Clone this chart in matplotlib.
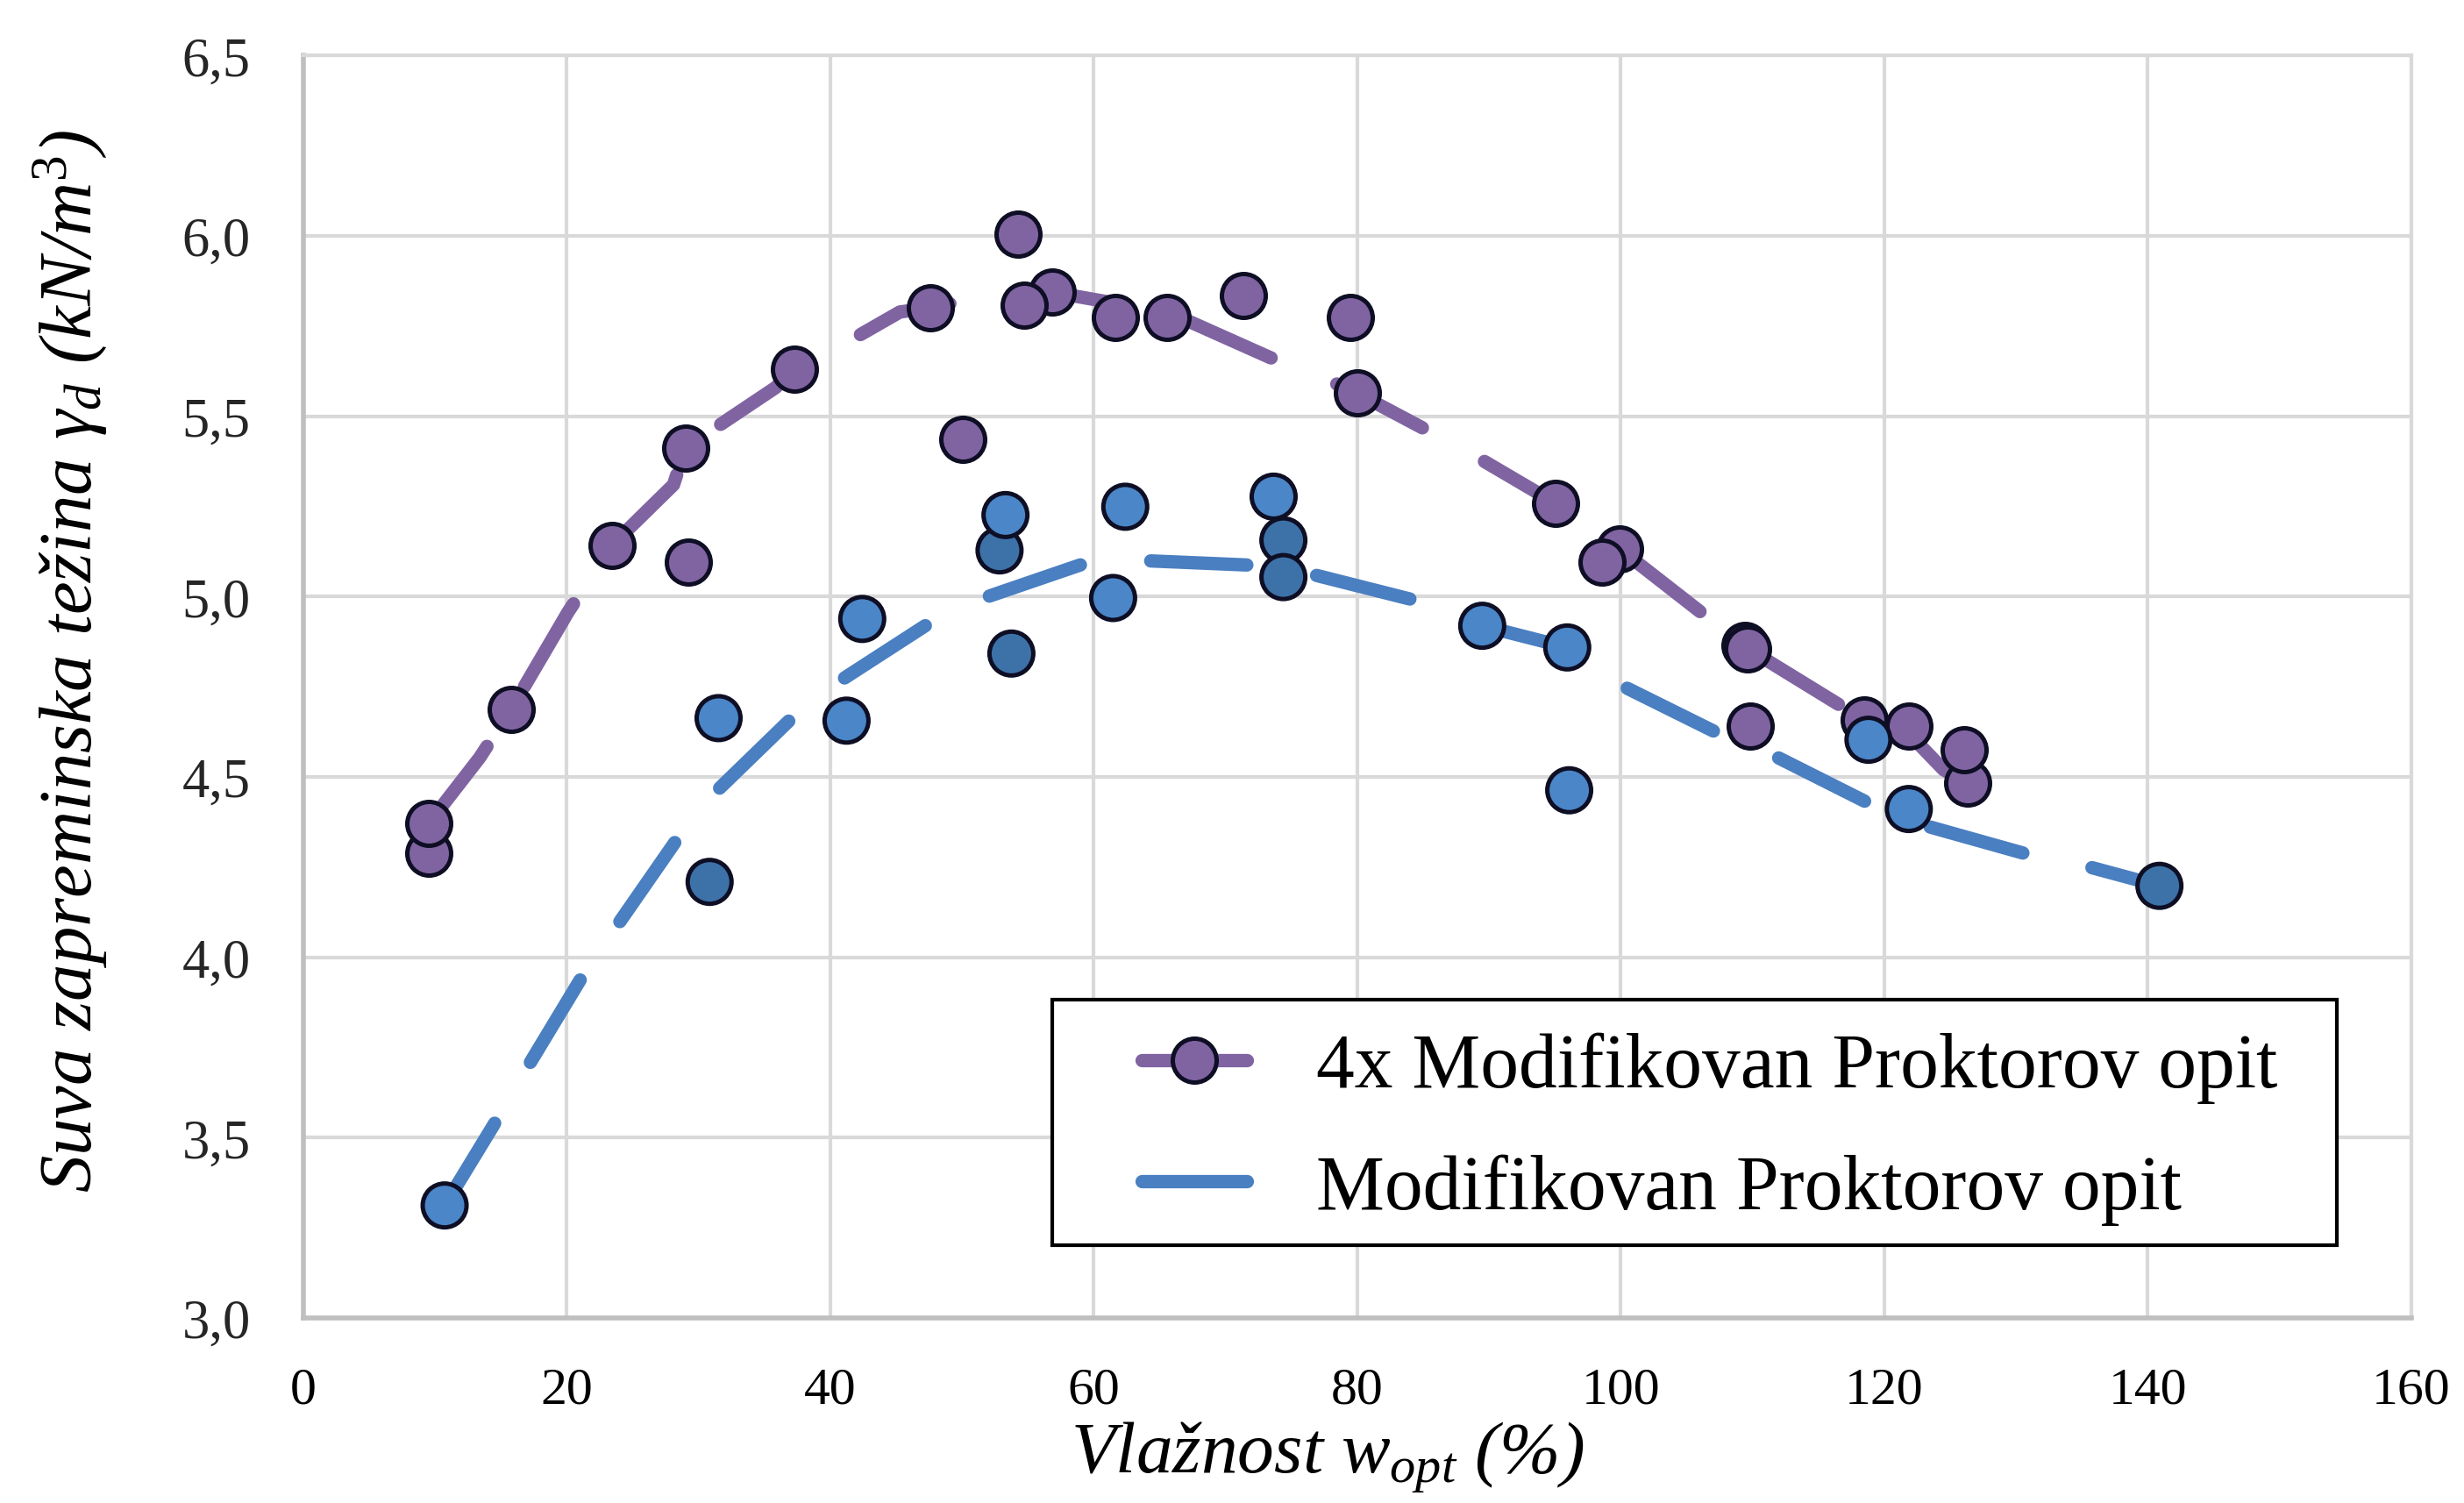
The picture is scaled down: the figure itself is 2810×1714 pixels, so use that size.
import matplotlib
matplotlib.use("Agg")
import matplotlib.pyplot as plt
from matplotlib.lines import Line2D
from matplotlib.patches import Rectangle

plt.rcParams['font.family'] = ['Liberation Serif', 'DejaVu Serif']
plt.rcParams['mathtext.fontset'] = 'custom'
plt.rcParams['mathtext.rm'] = 'Liberation Serif'
plt.rcParams['mathtext.it'] = 'Liberation Serif:italic'
plt.rcParams['mathtext.bf'] = 'Liberation Serif:bold'
plt.rcParams['lines.scale_dashes'] = False

# ---------------- data ----------------
x_ticks = [0, 20, 40, 60, 80, 100, 120, 140, 160]
y_ticks = [3.0, 3.5, 4.0, 4.5, 5.0, 5.5, 6.0, 6.5]
y_tick_labels = ['3,0', '3,5', '4,0', '4,5', '5,0', '5,5', '6,0', '6,5']

label_4x = '4x Modifikovan Proktorov opit'
label_mod = 'Modifikovan Proktorov opit'

# 4x modified Proctor - measured points
p4_x = [9.56, 9.56, 15.8, 23.43, 29.02, 29.25, 37.33, 47.58, 50.05, 54.29,
        56.88, 54.71, 61.63, 65.58, 71.37, 79.51, 79.99, 95.04, 99.89, 98.55,
        109.4, 109.6, 109.83, 118.45, 121.86, 126.32, 126.08]
p4_y = [4.288, 4.372, 4.688, 5.142, 5.412, 5.096, 5.63, 5.80, 5.435, 6.005,
        5.844, 5.807, 5.775, 5.775, 5.835, 5.775, 5.564, 5.259, 5.133, 5.096,
        4.865, 4.855, 4.64, 4.658, 4.64, 4.482, 4.575]

# 4x modified Proctor - curve
p4_line_x = [9.56, 13.42, 15.8, 20.1, 23.43, 28.12, 29.02, 35.85, 37.33, 41.05,
             45.3, 47.58, 52.0, 56.88, 60.45, 65.58, 73.37, 77.37, 79.99, 84.94,
             88.8, 95.04, 99.89, 106.1, 109.54, 118.45, 121.86, 124.5, 126.32]
p4_line_y = [4.372, 4.554, 4.688, 4.956, 5.142, 5.31, 5.412, 5.579, 5.63, 5.70,
             5.789, 5.80, 5.835, 5.844, 5.821, 5.79, 5.663, 5.607, 5.564, 5.468,
             5.393, 5.259, 5.133, 4.956, 4.858, 4.658, 4.62, 4.52, 4.482]

# modified Proctor - measured points
pm_x = [10.75, 31.54, 30.86, 41.25, 42.44, 52.86, 53.31, 53.76, 61.48, 62.4,
        74.4, 73.66, 74.4, 89.49, 95.94, 96.09, 118.8, 121.86, 140.88]
pm_y = [3.312, 4.663, 4.209, 4.656, 4.938, 5.128, 5.226, 4.842, 4.996, 5.249,
        5.156, 5.277, 5.054, 4.919, 4.859, 4.463, 4.603, 4.411, 4.198]
pm_shade = ['l', 'l', 'd', 'l', 'l', 'd', 'l', 'd', 'l', 'l',
            'd', 'l', 'd', 'l', 'l', 'l', 'l', 'l', 'd']

# modified Proctor - curve
pm_line_x = [10.75, 14.47, 16.7, 21.0, 23.5, 28.27, 31.0, 36.9, 40.15, 47.43,
             51.5, 59.25, 63.56, 72.0, 75.9, 84.35, 89.49, 95.94, 100.2, 107.6,
             111.8, 119.2, 121.86, 123.1, 131.4, 135.7, 140.88]
pm_line_y = [3.312, 3.535, 3.675, 3.935, 4.07, 4.321, 4.447, 4.656, 4.752, 4.924,
             4.994, 5.091, 5.10, 5.087, 5.068, 4.99, 4.919, 4.859, 4.751, 4.617,
             4.556, 4.42, 4.385, 4.365, 4.28, 4.249, 4.198]

# ---------------- style ----------------
PURPLE = '#8064A2'
BLUE_LINE = '#4A7FC1'
BLUE_L = '#4A86C8'
BLUE_D = '#3D72A9'
EDGE = '#0E0E24'
GRID = '#D9D9D9'
AXIS = '#BFBFBF'
LW = 11
DASH = (79.0, 58.0)
MS = 36
MEW = 3.6

W, H = 2810, 1715
fig = plt.figure(figsize=(W / 100, H / 100), dpi=100)
fig.patch.set_facecolor('white')
ax = fig.add_axes([345.5 / W, 1 - 1504 / H, (2750 - 345.5) / W, (1504 - 64.3) / H])

ax.set_xlim(0, 160)
ax.set_ylim(3.0, 6.5)
ax.grid(True, color=GRID, lw=3)
ax.set_axisbelow(True)
for s in ['left', 'bottom']:
    ax.spines[s].set_color(AXIS)
    ax.spines[s].set_linewidth(4)
for s in ['top', 'right']:
    ax.spines[s].set_color(GRID)
    ax.spines[s].set_linewidth(3)

ax.plot(p4_line_x, p4_line_y, color=PURPLE, lw=LW, dashes=DASH,
        dash_capstyle='round', zorder=3)
ax.plot(pm_line_x, pm_line_y, color=BLUE_LINE, lw=LW, dashes=DASH,
        dash_capstyle='round', zorder=3)
ax.scatter(p4_x, p4_y, s=MS ** 2, c=PURPLE, edgecolors=EDGE, linewidths=MEW, zorder=4)
ax.scatter(pm_x, pm_y, s=MS ** 2, c=[BLUE_D if k == 'd' else BLUE_L for k in pm_shade],
           edgecolors=EDGE, linewidths=MEW, zorder=5)

ax.set_xticks(x_ticks)
ax.set_xticklabels([str(v) for v in x_ticks], fontsize=43, color='black')
ax.set_yticks(y_ticks)
ax.set_yticklabels(y_tick_labels, fontsize=45, color='#262626')
ax.tick_params(axis='both', length=0)
ax.tick_params(axis='x', pad=40)
ax.tick_params(axis='y', pad=43)

ax.set_xlabel('Vlažnost $w_{opt}$ (%)', fontsize=60, style='italic', va='center')
ax.xaxis.set_label_coords(0.486, -0.1097)
ax.set_ylabel(r'Suva zapreminska težina $\gamma_d$ (kN/m$^3$)', fontsize=61,
              style='italic', va='center')
ax.yaxis.set_label_coords(-0.1104, 0.521)

# legend
box = Rectangle((1200 / W, 1 - 1421 / H), (2665 - 1200) / W, (1421 - 1141) / H,
                transform=fig.transFigure, facecolor='white', edgecolor='black',
                lw=3, zorder=10, clip_on=False)
ax.add_patch(box)
h1 = Line2D([], [], color=PURPLE, lw=LW, solid_capstyle='round', marker='o',
            ms=MS, mfc=PURPLE, mec=EDGE, mew=MEW)
h2 = Line2D([], [], color=BLUE_LINE, lw=LW, solid_capstyle='round')
leg = ax.legend([h1, h2], [label_4x, label_mod], loc='upper left',
                bbox_to_anchor=(1301.5 / W, 1 - 1178 / H), bbox_transform=fig.transFigure,
                frameon=False, fontsize=63, handlelength=1.38, handletextpad=0.9,
                labelspacing=0.65, borderpad=0, borderaxespad=0)
leg.set_zorder(11)

fig.savefig('out.png', dpi=100, facecolor='white')
